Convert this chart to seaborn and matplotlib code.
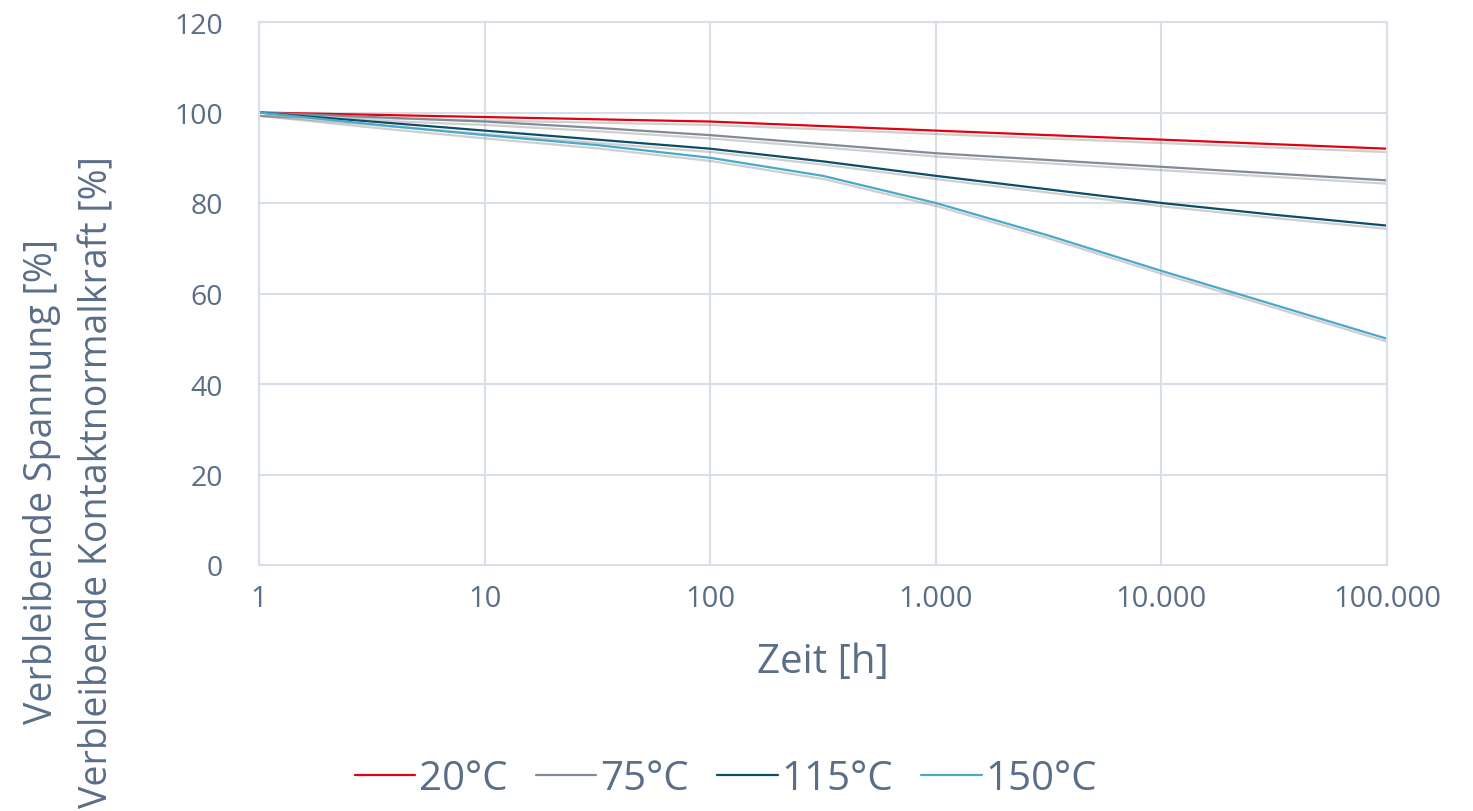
# Spannungsrelaxation: verbleibende Kontaktnormalkraft über Zeit

import pandas as pd
import numpy as np
import matplotlib
matplotlib.use("Agg")
import matplotlib.pyplot as plt
import matplotlib.patheffects as pe
import seaborn as sns

# data (half-decade steps)
zeit_h = [1, 3.16, 10, 31.6, 100, 316, 1000, 3162, 10000, 31623, 100000]
temp_20 = [100, 99.5, 99, 98.5, 98, 97, 96, 95, 94, 93, 92]
temp_75 = [100, 99, 98, 96.6, 95, 93, 91, 89.5, 88, 86.5, 85]
temp_115 = [100, 98, 96, 94, 92, 89.2, 86, 83, 80, 77.4, 75]
temp_150 = [100, 97.4, 95, 92.8, 90, 86, 80, 72.8, 65, 57.5, 50]
series_names = ["20°C", "75°C", "115°C", "150°C"]
x_ticks = [1, 10, 100, 1000, 10000, 100000]
x_tick_labels = ["1", "10", "100", "1.000", "10.000", "100.000"]
y_ticks = [0, 20, 40, 60, 80, 100, 120]

colors = {"20°C": "#e3000f", "75°C": "#808b96", "115°C": "#0c4d68", "150°C": "#4aa9c9"}
text_color = "#5a6e88"
grid_color = "#d9dfe8"

df = pd.DataFrame({
    "Zeit": zeit_h * 4,
    "Wert": temp_20 + temp_75 + temp_115 + temp_150,
    "Temperatur": np.repeat(series_names, len(zeit_h)),
})

sns.set_theme(style="whitegrid")
plt.rcParams["font.family"] = ["Open Sans", "DejaVu Sans"]

fig = plt.figure(figsize=(14.73, 8.12), dpi=100)
ax = fig.add_axes([259 / 1473, 1 - 566 / 812, (1387 - 259) / 1473, (566 - 23) / 812])

sns.lineplot(data=df, x="Zeit", y="Wert", hue="Temperatur", palette=colors,
             hue_order=series_names, linewidth=1.6, ax=ax, legend=False)
for line in ax.get_lines():
    line.set_path_effects([pe.SimpleLineShadow(offset=(1.5, -2.5), shadow_color="#777777", alpha=0.35),
                           pe.Normal()])

ax.set_xscale("log")
ax.set_xlim(1, 100000)
ax.set_ylim(0, 120)
ax.set_xticks(x_ticks)
ax.set_xticklabels(x_tick_labels)
ax.xaxis.set_minor_locator(matplotlib.ticker.NullLocator())
ax.set_yticks(y_ticks)
ax.grid(True, color=grid_color, linewidth=1.5)
for s in ax.spines.values():
    s.set_color(grid_color)
    s.set_linewidth(1.5)
ax.tick_params(axis="both", length=0, colors=text_color)
ax.tick_params(axis="x", labelsize=21, pad=14)
ax.tick_params(axis="y", labelsize=20.5, pad=26)
ax.set_xlabel("Zeit [h]", fontsize=29, color=text_color, labelpad=20)
ax.set_ylabel("")

fig.text(0.047, 1 - 482 / 812, "Verbleibende Spannung [%]\nVerbleibende Kontaktnormalkraft [%]",
         rotation=90, ha="center", va="center", multialignment="center",
         fontsize=27, color=text_color, linespacing=1.6)

handles = [plt.Line2D([], [], color=colors[n], linewidth=1.6) for n in series_names]
leg = fig.legend(handles, series_names, loc="center", bbox_to_anchor=(726 / 1473, 1 - 780 / 812),
                 ncol=4, frameon=False, fontsize=29, handlelength=1.5, handletextpad=0.1,
                 columnspacing=0.7)
for t in leg.get_texts():
    t.set_color(text_color)

fig.savefig("out.png", dpi=100)
